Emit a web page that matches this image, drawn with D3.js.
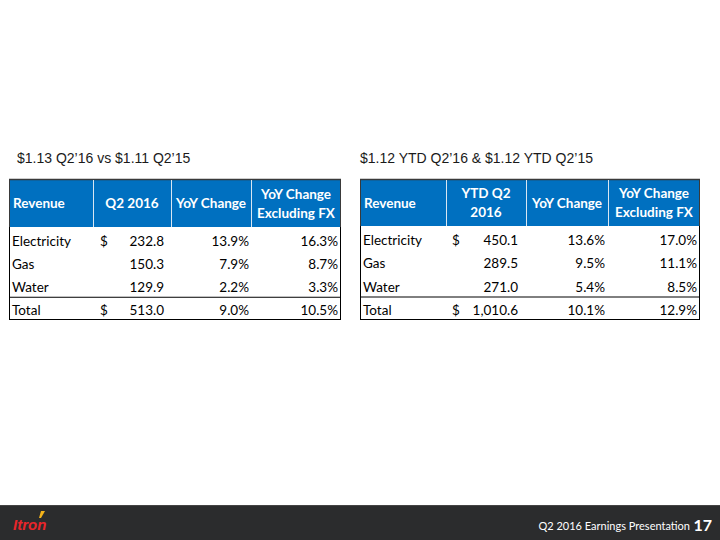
<!DOCTYPE html>
<html><head><meta charset="utf-8">
<script src="https://cdn.jsdelivr.net/npm/d3@7"></script>
<style>html,body{margin:0;padding:0;background:#fff;}svg{display:block;}</style>
</head><body>
<svg id="c" width="720" height="540"></svg>
<script>
// ---- data ----
const categories = ["Electricity", "Gas", "Water", "Total"];
const dollarSign = ["$", "", "", "$"];
const q2Revenue = ["232.8", "150.3", "129.9", "513.0"];
const q2YoY = ["13.9%", "7.9%", "2.2%", "9.0%"];
const q2YoYExFX = ["16.3%", "8.7%", "3.3%", "10.5%"];
const ytdRevenue = ["450.1", "289.5", "271.0", "1,010.6"];
const ytdYoY = ["13.6%", "9.5%", "5.4%", "10.1%"];
const ytdYoYExFX = ["17.0%", "11.1%", "8.5%", "12.9%"];
const leftHeaders = [["Revenue"], ["Q2 2016"], ["YoY Change"], ["YoY Change", "Excluding FX"]];
const rightHeaders = [["Revenue"], ["YTD Q2", "2016"], ["YoY Change"], ["YoY Change", "Excluding FX"]];
const leftTitle = "$1.13 Q2\u201916 vs $1.11 Q2\u201915";
const rightTitle = "$1.12 YTD Q2\u201916 & $1.12 YTD Q2\u201915";
const footerText = "Q2 2016 Earnings Presentation";
const pageNumber = "17";

const svg = d3.select("#c");
const FONT = "Lato, 'Open Sans', sans-serif";
const BLUE = "#0070C0";

function drawTable(opt) {
  const g = svg.append("g");
  const x0 = opt.x0, x1 = opt.x1;
  const cols = opt.cols; // column edges
  const yRow = d3.scaleBand().domain(categories).range([opt.hb, opt.bottom]);
  // header
  g.append("rect").attr("x", x0).attr("y", opt.ht).attr("width", x1 - x0).attr("height", opt.hb - opt.ht).attr("fill", BLUE);
  g.append("line").attr("x1", x0).attr("x2", x1).attr("y1", opt.ht + 0.5).attr("y2", opt.ht + 0.5).attr("stroke", "#3a3a3a").attr("stroke-width", 1.5);
  g.append("line").attr("x1", x0 + 0.5).attr("x2", x0 + 0.5).attr("y1", opt.ht).attr("y2", opt.hb).attr("stroke", "#3a3a3a");
  g.append("line").attr("x1", x1 - 0.5).attr("x2", x1 - 0.5).attr("y1", opt.ht).attr("y2", opt.hb).attr("stroke", "#3a3a3a");
  cols.slice(1, -1).forEach(cx => {
    g.append("line").attr("x1", cx + 0.5).attr("x2", cx + 0.5).attr("y1", opt.ht + 1).attr("y2", opt.hb).attr("stroke", "#d9e6f2").attr("stroke-width", 1);
  });
  opt.headers.forEach((lines, i) => {
    const cx = i === 0 ? cols[0] + 4 : (cols[i] + cols[i + 1]) / 2;
    const mid = (opt.ht + opt.hb) / 2;
    const lh = 19;
    lines.forEach((t, j) => {
      g.append("text").attr("x", cx)
        .attr("y", mid + (j - (lines.length - 1) / 2) * lh + 5)
        .attr("text-anchor", i === 0 ? "start" : "middle")
        .attr("font-family", FONT).attr("font-weight", "bold").attr("font-size", 13.5)
        .attr("fill", "#fff").text(t);
    });
  });
  // body borders
  g.append("line").attr("x1", x0 + 0.5).attr("x2", x0 + 0.5).attr("y1", opt.hb).attr("y2", opt.bottom).attr("stroke", "#000");
  g.append("line").attr("x1", x1 - 0.5).attr("x2", x1 - 0.5).attr("y1", opt.hb).attr("y2", opt.bottom).attr("stroke", "#000");
  g.append("line").attr("x1", x0).attr("x2", x1).attr("y1", opt.bottom - 0.5).attr("y2", opt.bottom - 0.5).attr("stroke", "#000");
  const ty = yRow("Total");
  g.append("line").attr("x1", x0).attr("x2", x1).attr("y1", ty + 0.5).attr("y2", ty + 0.5).attr("stroke", "#000");
  // cells
  const txt = (x, y, t, anchor) => g.append("text").attr("x", x).attr("y", y).attr("text-anchor", anchor)
    .attr("font-family", FONT).attr("font-size", 13.5).attr("fill", "#000").text(t);
  categories.forEach((c, i) => {
    const by = yRow(c) + 18.5;
    txt(opt.catX, by, c, "start");
    if (dollarSign[i]) txt(opt.dollarX, by, dollarSign[i], "start");
    txt(opt.valX, by, opt.values[i], "end");
    txt(opt.yoyX, by, opt.yoy[i], "end");
    txt(opt.fxX, by, opt.fx[i], "end");
  });
  // title
  svg.append("text").attr("x", opt.titleX).attr("y", 163).attr("font-family", "'Liberation Sans', Arial, sans-serif")
    .attr("font-size", 14).attr("fill", "#1a1a1a").text(opt.title);
}

drawTable({
  x0: 9, x1: 341, ht: 179, hb: 227, bottom: 320,
  cols: [9, 93, 171, 251, 341], headers: leftHeaders,
  catX: 12, dollarX: 100, valX: 164, yoyX: 249, fxX: 338,
  values: q2Revenue, yoy: q2YoY, fx: q2YoYExFX, title: leftTitle, titleX: 17
});
drawTable({
  x0: 360, x1: 700, ht: 179, hb: 226, bottom: 320,
  cols: [360, 446, 526, 608, 700], headers: rightHeaders,
  catX: 363, dollarX: 452, valX: 518, yoyX: 605, fxX: 697,
  values: ytdRevenue, yoy: ytdYoY, fx: ytdYoYExFX, title: rightTitle, titleX: 360
});

// footer
svg.append("rect").attr("x", 0).attr("y", 505).attr("width", 720).attr("height", 35).attr("fill", "#2b2c2d");
svg.append("line").attr("x1", 0).attr("x2", 720).attr("y1", 505.5).attr("y2", 505.5).attr("stroke", "#444");
svg.append("text").attr("x", 690).attr("y", 530).attr("text-anchor", "end").attr("font-family", FONT)
  .attr("font-size", 11).attr("fill", "#fff").text(footerText);
svg.append("text").attr("x", 712).attr("y", 531).attr("text-anchor", "end").attr("font-family", FONT)
  .attr("font-weight", "bold").attr("font-size", 16).attr("fill", "#fff").text(pageNumber);
// logo
svg.append("text").attr("x", 13).attr("y", 530).attr("font-family", "'Liberation Sans', Arial, sans-serif")
  .attr("font-weight", "bold").attr("font-style", "italic").attr("font-size", 15).attr("fill", "#e8262b").text("Itron");
svg.append("path").attr("d", "M39,518 L41,511 L45,511 L41,518 Z").attr("fill", "#f4b41a");
</script>
</body></html>
